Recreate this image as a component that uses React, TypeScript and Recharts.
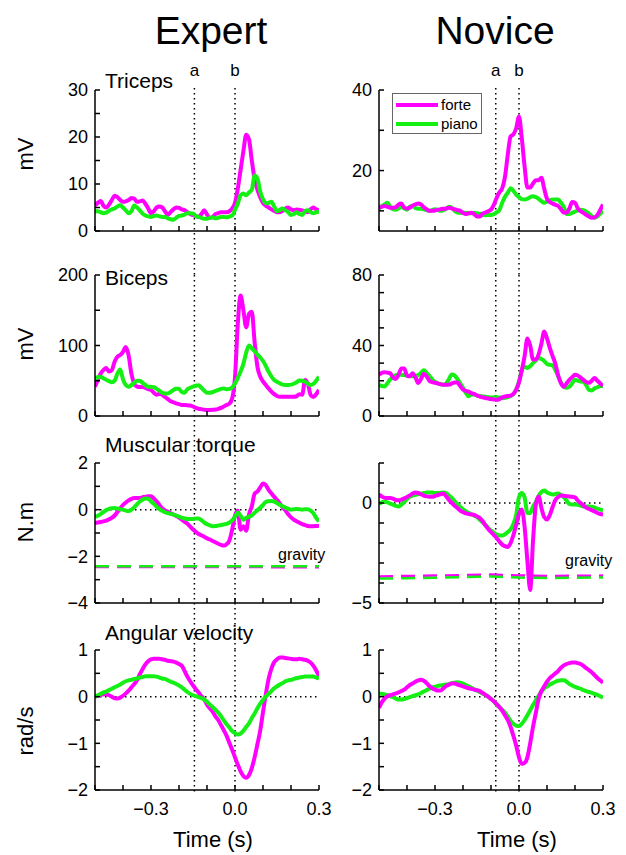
import { Legend, Line, LineChart, ReferenceLine, XAxis, YAxis } from "recharts";

// time axis, s (one sample every 10 ms)
const time = [
  -0.5, -0.49, -0.48, -0.47, -0.46, -0.45, -0.44, -0.43, -0.42, -0.41,
  -0.4, -0.39, -0.38, -0.37, -0.36, -0.35, -0.34, -0.33, -0.32, -0.31,
  -0.3, -0.29, -0.28, -0.27, -0.26, -0.25, -0.24, -0.23, -0.22, -0.21,
  -0.2, -0.19, -0.18, -0.17, -0.16, -0.15, -0.14, -0.13, -0.12, -0.11,
  -0.1, -0.09, -0.08, -0.07, -0.06, -0.05, -0.04, -0.03, -0.02, -0.01,
  0, 0.01, 0.02, 0.03, 0.04, 0.05, 0.06, 0.07, 0.08, 0.09,
  0.1, 0.11, 0.12, 0.13, 0.14, 0.15, 0.16, 0.17, 0.18, 0.19,
  0.2, 0.21, 0.22, 0.23, 0.24, 0.25, 0.26, 0.27, 0.28, 0.29,
  0.3,
];

// gravity torque is only given every 100 ms
const gravityTime = [-0.5, -0.4, -0.3, -0.2, -0.1, 0, 0.1, 0.2, 0.3];

const tricepsExpertForte = [
  5.5, 6.0, 6.4, 5.4, 5.0, 5.6, 6.6, 7.5, 7.2, 6.6,
  6.2, 6.3, 6.6, 7.0, 6.9, 6.2, 6.3, 6.5, 5.8, 4.8,
  3.8, 4.2, 5.0, 5.2, 5.0, 4.2, 3.4, 4.0, 4.6, 5.0,
  4.9, 4.6, 4.4, 4.0, 3.6, 3.4, 3.2, 3.0, 3.6, 4.4,
  3.5, 2.8, 3.0, 3.6, 3.8, 4.0, 4.0, 4.0, 4.2, 4.8,
  6.0, 9.0, 13.0, 17.0, 20.5, 19.5, 15.0, 11.0, 8.8, 7.2,
  6.0, 5.4, 5.0, 4.6, 4.3, 4.0, 4.0, 4.3, 4.8, 5.0,
  4.6, 4.4, 4.6, 4.5, 4.4, 4.2, 4.0, 4.6, 5.0, 4.6,
  4.4,
];
const tricepsExpertPiano = [
  4.2, 4.2, 4.0, 3.8, 3.9, 4.3, 4.6, 4.8, 5.2, 5.5,
  5.0, 4.4, 3.8, 4.2, 5.4, 5.0, 4.4, 3.7, 3.3, 3.1,
  3.0, 3.2, 3.3, 3.1, 3.0, 3.0, 2.7, 2.5, 2.4, 2.8,
  3.2, 3.3, 3.5, 3.8, 3.8, 3.7, 3.2, 3.0, 2.8, 2.6,
  2.6, 2.8, 2.9, 2.7, 2.8, 3.0, 3.0, 2.9, 3.1, 3.3,
  4.5, 5.8, 7.6, 8.0, 7.6, 8.2, 8.8, 11.8, 11.2, 8.4,
  6.8, 5.9, 6.0, 6.2, 5.2, 4.2, 4.5, 4.8, 4.4, 4.0,
  3.4, 3.6, 4.0, 3.6, 3.4, 4.2, 4.4, 4.0, 3.8, 4.0,
  4.1,
];
const tricepsNoviceForte = [
  10.8, 11.0, 11.2, 11.0, 10.8, 10.8, 10.9, 11.6, 11.8, 10.8,
  10.6, 10.8, 11.3, 11.6, 11.8, 11.6, 10.9, 10.4, 10.0, 10.0,
  10.1, 10.3, 10.4, 10.5, 10.6, 10.8, 10.6, 10.4, 10.2, 10.0,
  9.5, 9.2, 9.4, 9.5, 9.2, 8.6, 8.6, 9.3, 9.6, 9.9,
  10.3, 11.5, 13.2, 14.6, 15.6, 18.5, 24.0, 28.5, 29.0, 30.5,
  33.4, 28.0, 21.0, 15.8, 15.8, 16.8, 17.6, 17.6, 18.2, 15.5,
  13.0, 12.2, 11.8, 11.5, 11.2, 10.4, 9.6, 9.6, 10.6, 12.2,
  12.0, 10.6, 9.9, 9.5, 9.0, 8.6, 8.3, 8.4, 9.0, 10.2,
  11.6,
];
const tricepsNovicePiano = [
  10.6, 11.2, 11.6, 12.0, 11.0, 10.4, 10.3, 10.6, 11.2, 10.6,
  10.3, 11.0, 11.2, 10.7, 10.5, 10.5, 10.4, 10.2, 10.0, 10.2,
  10.4, 10.2, 10.0, 10.2, 10.5, 11.0, 10.8, 10.0, 9.6, 9.5,
  9.5, 9.5, 9.4, 9.4, 9.5, 9.4, 9.3, 9.0, 8.9, 9.0,
  9.0, 9.2, 9.6, 10.2, 12.0, 13.5, 14.5, 15.6, 15.0, 14.0,
  13.4, 12.9, 12.8, 13.0, 13.4, 13.6, 13.4, 13.0, 12.4, 12.0,
  12.3, 12.6, 12.8, 12.8, 12.8, 12.0, 11.0, 9.2, 9.2, 9.5,
  9.8, 10.1, 10.3, 10.2, 9.8, 9.3, 8.7, 8.3, 8.6, 9.3,
  10.0,
];

const bicepsExpertForte = [
  41.6, 51, 60, 65, 68, 63, 65, 77, 84, 86.5,
  91, 98, 86, 60, 46, 41.6, 41, 41, 40, 38,
  37, 33, 30, 31.5, 30, 27, 24, 21, 19.5, 18,
  16.8, 15.6, 15.6, 15.4, 14.8, 13.5, 11.5, 10.2, 9.6, 9.0,
  8.5, 8.5, 8.7, 9.2, 10.2, 11.5, 13.5, 15.6, 17.5, 25,
  55, 131, 171, 150, 126, 145, 148, 105, 70, 56,
  49, 44, 39, 34.5, 31, 28.4, 27.4, 27.4, 27.4, 27.4,
  27.4, 27.4, 28, 31, 30, 51, 46, 30, 27, 31,
  37,
];
const bicepsExpertPiano = [
  53.4, 55, 55.8, 53.5, 51.5, 49.5, 48, 50, 60, 66,
  52, 44, 41.6, 44, 47, 50, 50, 47, 44, 41.6,
  41.6, 41, 38.5, 36, 33, 32, 32, 34, 37, 38.5,
  38.5, 34, 33, 38, 40, 41.6, 43, 43.5, 40, 36,
  33, 33, 34, 35.5, 37, 38.5, 39, 38, 38.5, 40.5,
  46, 54, 63, 74, 90, 100, 96, 92, 87, 83,
  78, 71, 63, 56, 51, 48.5, 46.5, 44.5, 44, 44,
  44.5, 45.8, 48, 50.5, 50, 48.7, 46, 44, 45.5, 50,
  55.8,
];
const bicepsNoviceForte = [
  23.4, 24.5, 24.8, 24.6, 24.2, 22, 21, 23.5, 27, 27,
  23, 22.5, 24.2, 22, 18.7, 21, 24, 22.5, 20, 19.2,
  18.8, 18.5, 18, 17.7, 17.7, 17.8, 18.5, 19, 19, 17,
  15, 14.3, 13.8, 13, 12.4, 11.7, 11, 10.6, 10.2, 9.9,
  9.6, 9.4, 9.2, 9.6, 10.6, 11.1, 11.3, 11.6, 12.5, 15,
  19, 26, 34, 44, 40, 32, 32, 35, 41, 48,
  44, 38.7, 34, 29.5, 23, 18.5, 16.6, 18.5, 20.5, 22,
  23.4, 23, 21.8, 20.5, 19.3, 18.8, 20, 21.5, 20, 18.5,
  17,
];
const bicepsNovicePiano = [
  17.7, 17, 16.8, 18.6, 20.8, 22, 23.2, 23.4, 23.4, 23.2,
  22.9, 22.7, 22.5, 22.8, 23.2, 24.5, 26, 24.5, 22.8, 20.8,
  19.3, 18.5, 18, 17.7, 18.5, 21, 23.5, 23, 21, 18.5,
  16, 13.2, 11.2, 12.2, 12.4, 11.6, 11.3, 11.1, 10.9, 10.6,
  10.5, 10.6, 10.7, 10.5, 10.2, 10.3, 10.7, 11.3, 12.3, 15,
  19.5, 26, 28, 27.3, 28.3, 30, 31.5, 33, 32.3, 31.2,
  29.5, 29, 28.7, 26, 22.5, 19, 16.5, 16, 16.6, 18.6,
  20.6, 20, 19.6, 19.3, 17.5, 14.8, 14.5, 15.7, 16.3, 17,
  17.2,
];

const torqueExpertForte = [
  -0.57, -0.55, -0.53, -0.5, -0.47, -0.41, -0.35, -0.25, -0.1, 0.05,
  0.2, 0.31, 0.4, 0.46, 0.5, 0.5, 0.5, 0.53, 0.56, 0.57,
  0.57, 0.48, 0.36, 0.2, 0.05, -0.03, -0.09, -0.15, -0.21, -0.27,
  -0.34, -0.43, -0.52, -0.6, -0.73, -0.85, -0.95, -1.04, -1.1, -1.16,
  -1.23, -1.28, -1.34, -1.4, -1.46, -1.51, -1.54, -1.48, -1.32, -0.85,
  -0.25, -0.05, -0.86, -0.71, -0.9, -0.2, 0.14, 0.68, 0.78, 0.95,
  1.12, 1.05, 0.85, 0.7, 0.55, 0.42, 0.27, 0.1, -0.03, -0.2,
  -0.33, -0.43, -0.5, -0.56, -0.62, -0.66, -0.7, -0.71, -0.71, -0.7,
  -0.69,
];
const torqueExpertPiano = [
  -0.31, -0.26, -0.19, -0.1, -0.02, 0.03, 0.06, 0.07, 0.05, 0.02,
  0.0, -0.04, -0.06, 0.0, 0.1, 0.23, 0.35, 0.43, 0.48, 0.47,
  0.35, 0.25, 0.13, 0.02, -0.05, -0.11, -0.15, -0.18, -0.21, -0.25,
  -0.3, -0.34, -0.38, -0.4, -0.4, -0.4, -0.38, -0.38, -0.45, -0.55,
  -0.62, -0.67, -0.71, -0.7, -0.68, -0.66, -0.63, -0.61, -0.55, -0.46,
  -0.3, -0.12, -0.26, -0.43, -0.35, -0.3, -0.24, -0.13, -0.02, 0.08,
  0.2, 0.33, 0.36, 0.37, 0.35, 0.28, 0.21, 0.15, 0.09, 0.04,
  0.0, 0.02, 0.03, 0.02, 0.0, 0.02, 0.02, -0.04, -0.15, -0.35,
  -0.5,
];
const torqueNoviceForte = [
  0.42, 0.33, 0.26, 0.25, 0.25, 0.22, 0.15, 0.14, 0.17, 0.23,
  0.3, 0.38, 0.47, 0.53, 0.5, 0.44, 0.37, 0.33, 0.31, 0.31,
  0.35, 0.4, 0.44, 0.47, 0.33, 0.15, 0.0, -0.14, -0.25, -0.38,
  -0.45, -0.52, -0.55, -0.57, -0.6, -0.67, -0.75, -0.9, -1.12, -1.3,
  -1.45, -1.6, -1.75, -1.93, -2.08, -2.16, -2.2, -2.0, -1.6, -1.1,
  -0.55, -0.33, -1.2, -2.9, -4.35, -1.9, -0.1, 0.33, -0.25, -0.7,
  -0.82, -0.6, -0.2, 0.15, 0.3, 0.37, 0.36, 0.34, 0.33, 0.31,
  0.28, 0.12, 0.0, -0.12, -0.23, -0.3, -0.36, -0.42, -0.5, -0.55,
  -0.58,
];
const torqueNovicePiano = [
  -0.03, 0.03, 0.08, 0.03, -0.03, -0.08, -0.14, -0.17, -0.08, 0.05,
  0.2, 0.32, 0.37, 0.41, 0.45, 0.48, 0.5, 0.52, 0.53, 0.52,
  0.5, 0.5, 0.51, 0.53, 0.5, 0.37, 0.25, 0.1, -0.05, -0.18,
  -0.32, -0.41, -0.5, -0.57, -0.63, -0.7, -0.84, -0.96, -1.1, -1.24,
  -1.38, -1.48, -1.58, -1.62, -1.63, -1.56, -1.45, -1.32, -1.05, -0.6,
  0.3, 0.5, 0.28, -0.5, -0.5, -0.18, 0.05, 0.35, 0.55, 0.62,
  0.53, 0.47, 0.43, 0.45, 0.47, 0.4, 0.3, 0.12, -0.05, -0.08,
  -0.08, -0.09, -0.13, -0.17, -0.17, -0.17, -0.19, -0.23, -0.28, -0.33,
  -0.37,
];
const gravityExpertForte = [-2.46, -2.46, -2.46, -2.46, -2.46, -2.46, -2.46, -2.47, -2.47];
const gravityExpertPiano = [-2.42, -2.42, -2.42, -2.42, -2.42, -2.42, -2.42, -2.42, -2.42];
const gravityNoviceForte = [-3.67, -3.65, -3.63, -3.61, -3.58, -3.62, -3.65, -3.64, -3.63];
const gravityNovicePiano = [-3.78, -3.76, -3.74, -3.71, -3.67, -3.73, -3.75, -3.74, -3.72];

const velocityExpertForte = [
  0.0, 0.02, 0.04, 0.05, 0.05, 0.03, 0.0, -0.03, -0.04, -0.02,
  0.02, 0.07, 0.13, 0.2, 0.27, 0.35, 0.48, 0.59, 0.69, 0.76,
  0.8, 0.81, 0.81, 0.81, 0.8, 0.79, 0.77, 0.76, 0.75, 0.73,
  0.7, 0.66, 0.55, 0.43, 0.33, 0.24, 0.16, 0.09, 0.01, -0.06,
  -0.17, -0.25, -0.32, -0.42, -0.5, -0.61, -0.72, -0.84, -0.99, -1.14,
  -1.3, -1.46, -1.6, -1.7, -1.74, -1.68, -1.53, -1.3, -1.02, -0.73,
  -0.33, 0.05, 0.38, 0.6, 0.74, 0.8, 0.84, 0.84, 0.83, 0.82,
  0.81, 0.8, 0.8, 0.81, 0.8, 0.79, 0.77, 0.73, 0.66, 0.56,
  0.44,
];
const velocityExpertPiano = [
  0.0, 0.03, 0.06, 0.09, 0.11, 0.14, 0.17, 0.2, 0.23, 0.26,
  0.3, 0.33, 0.35, 0.36, 0.38, 0.39, 0.41, 0.42, 0.44, 0.44,
  0.44, 0.44, 0.43, 0.41, 0.39, 0.38, 0.35, 0.32, 0.3, 0.27,
  0.24, 0.2, 0.15, 0.1, 0.06, 0.03, 0.01, -0.01, -0.03, -0.06,
  -0.11, -0.17, -0.22, -0.28, -0.34, -0.42, -0.51, -0.59, -0.66, -0.74,
  -0.78, -0.81, -0.79, -0.73, -0.65, -0.57, -0.46, -0.36, -0.25, -0.15,
  -0.07, 0.0, 0.06, 0.12, 0.18, 0.22, 0.26, 0.29, 0.33, 0.35,
  0.36, 0.38, 0.4, 0.41, 0.42, 0.43, 0.43, 0.43, 0.43, 0.41,
  0.39,
];
const velocityNoviceForte = [
  -0.24, -0.12, -0.04, 0.01, 0.03, 0.05, 0.07, 0.09, 0.12, 0.15,
  0.2, 0.25, 0.28, 0.32, 0.35, 0.36, 0.34, 0.29, 0.23, 0.18,
  0.15, 0.13, 0.13, 0.18, 0.23, 0.26, 0.28, 0.28, 0.26, 0.24,
  0.22, 0.2, 0.18, 0.17, 0.15, 0.14, 0.12, 0.08, 0.04, 0.0,
  -0.05, -0.1, -0.16, -0.22, -0.3, -0.4, -0.5, -0.65, -0.84, -1.05,
  -1.3, -1.44, -1.42, -1.3, -1.0, -0.65, -0.35, -0.05, 0.12, 0.22,
  0.32, 0.4, 0.45, 0.5, 0.55, 0.62, 0.67, 0.7, 0.72, 0.73,
  0.73, 0.72, 0.7, 0.66, 0.61, 0.57, 0.52, 0.46, 0.4, 0.35,
  0.3,
];
const velocityNovicePiano = [
  0.07, 0.06, 0.05, 0.03, 0.01, -0.01, -0.04, -0.06, -0.06, -0.05,
  -0.03, -0.01, 0.01, 0.03, 0.05, 0.08, 0.11, 0.14, 0.17, 0.2,
  0.21, 0.23, 0.24, 0.25, 0.26, 0.27, 0.29, 0.3, 0.31, 0.3,
  0.28, 0.25, 0.22, 0.19, 0.16, 0.13, 0.1, 0.07, 0.04, 0.0,
  -0.05, -0.1, -0.17, -0.23, -0.28, -0.34, -0.43, -0.52, -0.58, -0.62,
  -0.63, -0.58, -0.5, -0.4, -0.29, -0.18, -0.08, 0.02, 0.11, 0.18,
  0.22, 0.26, 0.29, 0.32, 0.34, 0.35, 0.35, 0.32, 0.27, 0.24,
  0.21, 0.19, 0.17, 0.14, 0.12, 0.1, 0.08, 0.06, 0.04, 0.01,
  -0.02,
];

const xTicks = [-0.5, -0.4, -0.3, -0.2, -0.1, 0, 0.1, 0.2, 0.3];
const xLabels = [-0.3, 0, 0.3];
const groups = ["Expert", "Novice"];
const markerA = [-0.145, -0.083];
const markerB = [0, 0];

const MAGENTA = "#ff00ff";
const GREEN = "#14f014";
const FONT = "'Liberation Sans', Arial, sans-serif";
const SERIES_ORDER = ["forte", "piano"];

const ROW_TOP = [90, 275, 463, 650];
const ROW_BOTTOM = [231, 416, 603, 790];
const PAD_TOP = 30;
const AXIS_H = 60;
const COLS = [
  { left: 0, width: 345, mLeft: 55, mRight: 26 },
  { left: 330, width: 296, mLeft: 9, mRight: 23 },
];
const AXIS_STYLE = { stroke: "#000", strokeWidth: 1.5 };

const buildRows = (forte: number[], piano: number[], gF?: number[], gP?: number[]) =>
  time.map((t, i) => {
    const gi = gravityTime.indexOf(t);
    return {
      t,
      forte: forte[i],
      piano: piano[i],
      gForte: gF && gi >= 0 ? gF[gi] : null,
      gPiano: gP && gi >= 0 ? gP[gi] : null,
    };
  });

type Panel = {
  col: number;
  row: number;
  forte: number[];
  piano: number[];
  gForte?: number[];
  gPiano?: number[];
  domain: [number, number];
  ticks: number[];
  labels: number[];
  zero?: boolean;
};

const panels: Panel[] = [
  { col: 0, row: 0, forte: tricepsExpertForte, piano: tricepsExpertPiano, domain: [0, 30], ticks: [0, 5, 10, 15, 20, 25, 30], labels: [0, 10, 20, 30] },
  { col: 1, row: 0, forte: tricepsNoviceForte, piano: tricepsNovicePiano, domain: [5, 40], ticks: [10, 20, 30, 40], labels: [20, 40] },
  { col: 0, row: 1, forte: bicepsExpertForte, piano: bicepsExpertPiano, domain: [0, 200], ticks: [0, 50, 100, 150, 200], labels: [0, 100, 200] },
  { col: 1, row: 1, forte: bicepsNoviceForte, piano: bicepsNovicePiano, domain: [0, 80], ticks: [0, 10, 20, 30, 40, 50, 60, 70, 80], labels: [0, 40, 80] },
  { col: 0, row: 2, forte: torqueExpertForte, piano: torqueExpertPiano, gForte: gravityExpertForte, gPiano: gravityExpertPiano, domain: [-4, 2], ticks: [-4, -3, -2, -1, 0, 1, 2], labels: [-4, -2, 0, 2], zero: true },
  { col: 1, row: 2, forte: torqueNoviceForte, piano: torqueNovicePiano, gForte: gravityNoviceForte, gPiano: gravityNovicePiano, domain: [-5, 2], ticks: [-5, -4, -3, -2, -1, 0, 1, 2], labels: [-5, 0], zero: true },
  { col: 0, row: 3, forte: velocityExpertForte, piano: velocityExpertPiano, domain: [-2, 1], ticks: [-2, -1.5, -1, -0.5, 0, 0.5, 1], labels: [-2, -1, 0, 1], zero: true },
  { col: 1, row: 3, forte: velocityNoviceForte, piano: velocityNovicePiano, domain: [-2, 1], ticks: [-2, -1.5, -1, -0.5, 0, 0.5, 1], labels: [-2, -1, 0, 1], zero: true },
];

const minus = (s: string) => s.replace("-", "\u2212");

const YTick = ({ x, y, payload, labels }: any) => (
  <g>
    <line x1={x} x2={x + 5} y1={y} y2={y} stroke="#000" strokeWidth={1.5} />
    {labels.includes(payload.value) && (
      <text x={x - 7} y={y} dy="0.35em" textAnchor="end" fontSize={18} fontFamily={FONT} fill="#000">
        {minus(String(payload.value))}
      </text>
    )}
  </g>
);

const XTick = ({ x, y, payload, showLabel }: any) => (
  <g>
    <line x1={x} x2={x} y1={y} y2={y - 5} stroke="#000" strokeWidth={1.5} />
    {showLabel && xLabels.includes(payload.value) && (
      <text x={x} y={y + 25} textAnchor="middle" fontSize={18} fontFamily={FONT} fill="#000">
        {minus(payload.value.toFixed(1))}
      </text>
    )}
  </g>
);

// dotted event marker that runs on through the gap to the next panel
const markerShape = (up: number, down: number) => (p: any) => (
  <line
    x1={p.x1}
    x2={p.x2}
    y1={Math.min(p.y1, p.y2) - up}
    y2={Math.max(p.y1, p.y2) + down}
    stroke="#000"
    strokeWidth={1.5}
    strokeDasharray="1.5 3.5"
  />
);

const LegendBox = ({ payload }: any) => {
  const items = [...(payload ?? [])].sort(
    (p: any, q: any) => SERIES_ORDER.indexOf(p.value) - SERIES_ORDER.indexOf(q.value)
  );
  return (
    <div style={{ border: "1px solid #666", background: "#fff", width: 90, height: 41, boxSizing: "border-box", padding: "1px 0 0 3px", fontFamily: FONT }}>
      {items.map((it: any) => (
        <div key={it.value} style={{ display: "flex", alignItems: "center", height: 19 }}>
          <span style={{ display: "inline-block", width: 42, height: 4, background: it.color, marginRight: 3 }} />
          <span style={{ fontSize: 15, color: "#000" }}>{it.value}</span>
        </div>
      ))}
    </div>
  );
};

function PanelChart({ p }: { p: Panel }) {
  const c = COLS[p.col];
  const plotH = ROW_BOTTOM[p.row] - ROW_TOP[p.row];
  const up = p.row === 0 ? 2 : 0;
  const down = p.row < 3 ? ROW_TOP[p.row + 1] - ROW_BOTTOM[p.row] : 2;
  const data = buildRows(p.forte, p.piano, p.gForte, p.gPiano);
  const forteOnTop = p.col === 1;
  const forteLine = (
    <Line key="f" type="monotone" dataKey="forte" name="forte" stroke={MAGENTA} strokeWidth={4} dot={false} isAnimationActive={false} />
  );
  const pianoLine = (
    <Line key="p" type="monotone" dataKey="piano" name="piano" stroke={GREEN} strokeWidth={4} dot={false} isAnimationActive={false} />
  );
  return (
    <div style={{ position: "absolute", left: c.left, top: ROW_TOP[p.row] - PAD_TOP }}>
      <LineChart
        width={c.width}
        height={PAD_TOP + plotH + AXIS_H}
        data={data}
        margin={{ top: PAD_TOP, right: c.mRight, bottom: 0, left: c.mLeft }}
      >
        <XAxis
          type="number"
          dataKey="t"
          domain={[-0.5, 0.3]}
          ticks={xTicks}
          interval={0}
          height={AXIS_H}
          tickSize={0}
          tickMargin={0}
          tickLine={false}
          axisLine={AXIS_STYLE}
          tick={(tp: any) => <XTick {...tp} showLabel={p.row === 3} />}
          allowDataOverflow
        />
        <YAxis
          type="number"
          domain={p.domain}
          ticks={p.ticks}
          interval={0}
          width={40}
          tickSize={0}
          tickMargin={0}
          tickLine={false}
          axisLine={AXIS_STYLE}
          tick={(tp: any) => <YTick {...tp} labels={p.labels} />}
          allowDataOverflow
        />
        {p.zero && <ReferenceLine y={0} stroke="#000" strokeWidth={1.5} strokeDasharray="1.5 3.5" />}
        <ReferenceLine
          x={markerA[p.col]}
          shape={markerShape(up, down)}
          label={p.row === 0 ? { value: "a", position: "top", offset: 14, fill: "#000", fontSize: 17, fontFamily: FONT } : undefined}
        />
        <ReferenceLine
          x={markerB[p.col]}
          shape={markerShape(up, down)}
          label={p.row === 0 ? { value: "b", position: "top", offset: 14, fill: "#000", fontSize: 17, fontFamily: FONT } : undefined}
        />
        {p.gForte && (
          <Line type="linear" dataKey="gForte" stroke={MAGENTA} strokeWidth={2.5} strokeDasharray="14 8" dot={false} connectNulls legendType="none" isAnimationActive={false} />
        )}
        {p.gPiano && (
          <Line type="linear" dataKey="gPiano" stroke={GREEN} strokeWidth={2.5} strokeDasharray="14 8" dot={false} connectNulls legendType="none" isAnimationActive={false} />
        )}
        {forteOnTop ? [pianoLine, forteLine] : [forteLine, pianoLine]}
        {p.row === 0 && p.col === 1 && (
          <Legend
            layout="vertical"
            align="center"
            verticalAlign="middle"
            wrapperStyle={{ left: 392 - c.left, top: 93 - (ROW_TOP[0] - PAD_TOP), width: 90, height: 41 }}
            content={LegendBox}
          />
        )}
      </LineChart>
    </div>
  );
}

const panelTitles = ["Triceps", "Biceps", "Muscular torque", "Angular velocity"];
const titleY = [80, 277, 444, 632];
const units = ["mV", "mV", "N.m", "rad/s"];
const unitY = [154, 344, 522, 731];

const text = (s: React.CSSProperties): React.CSSProperties => ({
  position: "absolute",
  fontFamily: FONT,
  color: "#000",
  whiteSpace: "nowrap",
  lineHeight: 1,
  ...s,
});

export default function App() {
  return (
    <div style={{ position: "absolute", left: 0, top: 0, width: 626, height: 855, background: "#fff", overflow: "hidden" }}>
      {groups.map((g, i) => (
        <div key={g} style={text({ left: i === 0 ? 211 : 495, top: 30, fontSize: 39, transform: "translate(-50%, -50%)" })}>
          {g}
        </div>
      ))}
      {panels.map((p, i) => (
        <PanelChart key={i} p={p} />
      ))}
      {panelTitles.map((t, i) => (
        <div key={t} style={text({ left: 105, top: titleY[i], fontSize: 21, transform: "translateY(-50%)" })}>
          {t}
        </div>
      ))}
      {units.map((u, i) => (
        <div key={i} style={text({ left: 26, top: unitY[i], fontSize: 22, transform: "translate(-50%, -50%) rotate(-90deg)" })}>
          {u}
        </div>
      ))}
      <div style={text({ left: 278, top: 555, fontSize: 16, transform: "translateY(-50%)" })}>gravity</div>
      <div style={text({ left: 565, top: 561, fontSize: 16, transform: "translateY(-50%)" })}>gravity</div>
      <div style={text({ left: 213, top: 840, fontSize: 22, transform: "translate(-50%, -50%)" })}>Time (s)</div>
      <div style={text({ left: 517, top: 840, fontSize: 22, transform: "translate(-50%, -50%)" })}>Time (s)</div>
    </div>
  );
}
